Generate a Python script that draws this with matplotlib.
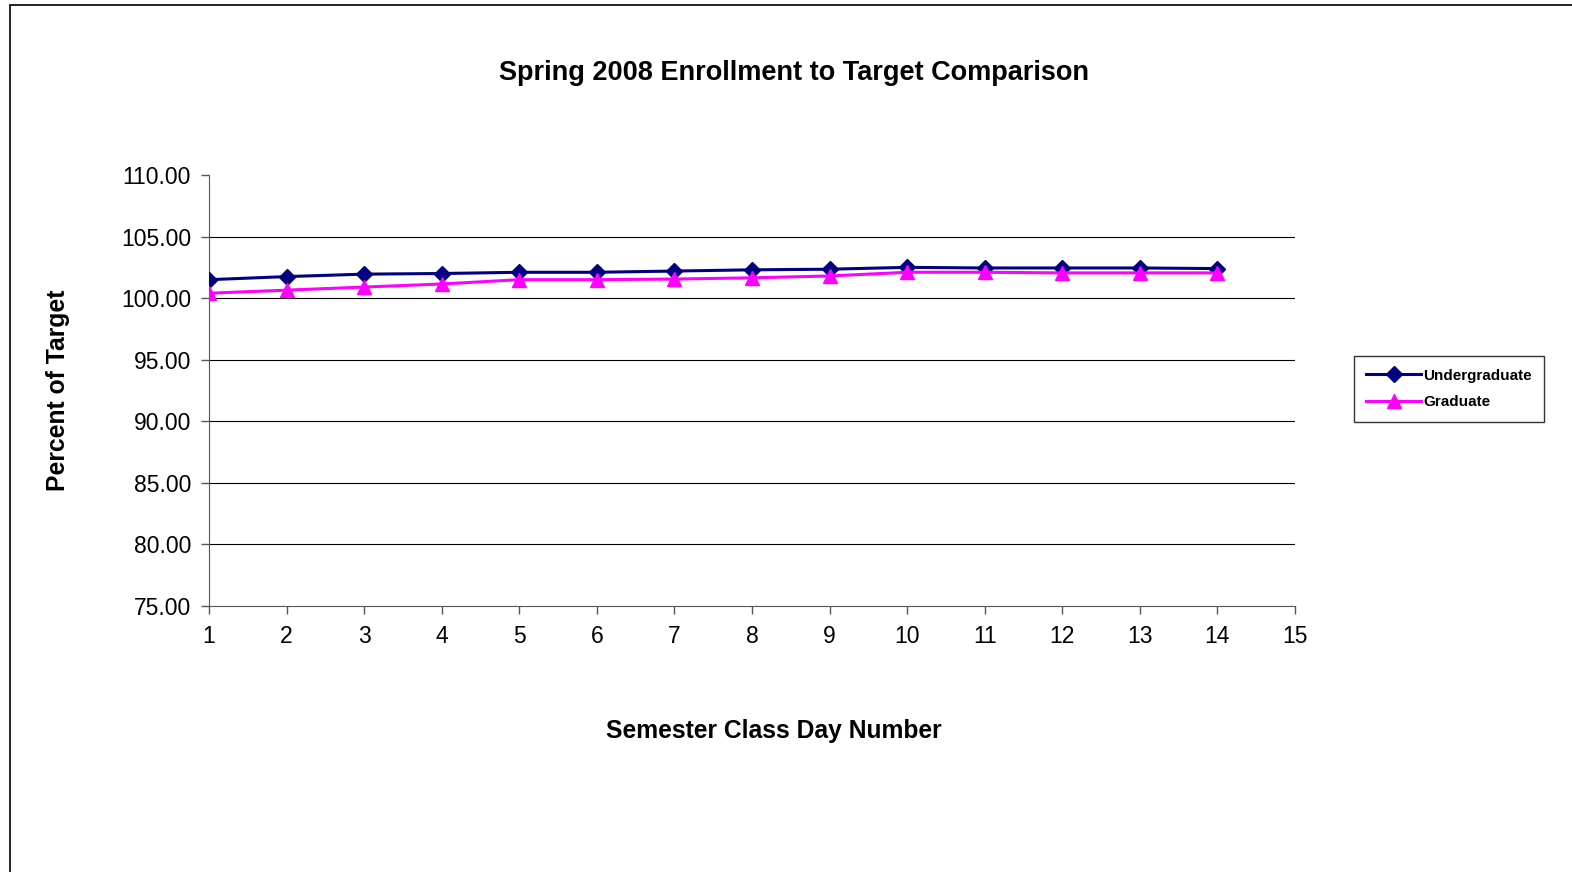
import matplotlib
matplotlib.use("Agg")
import matplotlib.pyplot as plt
from matplotlib.patches import Rectangle

plt.rcParams['font.family'] = ['Liberation Sans', 'DejaVu Sans']

# data
days = list(range(1, 15))
undergrad = [101.5, 101.75, 101.95, 102.0, 102.1, 102.1, 102.2,
             102.3, 102.35, 102.5, 102.45, 102.45, 102.45, 102.4]
graduate = [100.4, 100.65, 100.9, 101.15, 101.5, 101.5, 101.55,
            101.65, 101.8, 102.1, 102.1, 102.05, 102.05, 102.05]
yticks = [75, 80, 85, 90, 95, 100, 105, 110]
xticks = list(range(1, 16))

fig = plt.figure(figsize=(15.72, 8.72), dpi=100)
ax = fig.add_axes([209 / 1572, 1 - 606 / 872, (1295 - 209) / 1572, (606 - 175) / 872])

# outer chart border (left/top edges visible)
fig.patches.append(Rectangle((10 / 1572, -0.05), 1.2, 1.05 - 5 / 872,
                             transform=fig.transFigure, fill=False,
                             edgecolor='black', linewidth=1.2))

for y in yticks[1:-1]:
    ax.axhline(y, color='black', linewidth=0.8, zorder=1)

ax.plot(days, undergrad, color='#000080', marker='D', markersize=8,
        linewidth=2.2, label='Undergraduate', zorder=3)
ax.plot(days, graduate, color='#FF00FF', marker='^', markersize=10,
        linewidth=2.2, label='Graduate', zorder=3)

ax.set_xlim(1, 15)
ax.set_ylim(75, 110)
ax.set_xticks(xticks)
ax.set_yticks(yticks)
ax.set_yticklabels(['%.2f' % v for v in yticks])
ax.tick_params(labelsize=16.5, length=6, color='#555555', width=1)
ax.tick_params(axis='x', pad=8)
ax.tick_params(axis='y', pad=7)
for s in ['top', 'right']:
    ax.spines[s].set_visible(False)
for s in ['left', 'bottom']:
    ax.spines[s].set_color('#555555')

fig.text(794 / 1572, 1 - 73 / 872, 'Spring 2008 Enrollment to Target Comparison',
         ha='center', va='center', fontsize=19.5, fontweight='bold')
fig.text(774 / 1572, 1 - 731 / 872, 'Semester Class Day Number',
         ha='center', va='center', fontsize=17.7, fontweight='bold')
fig.text(58 / 1572, 1 - 390 / 872, 'Percent of Target', rotation=90,
         ha='center', va='center', fontsize=17.8, fontweight='bold')

leg = fig.legend(loc='center', bbox_to_anchor=(1449 / 1572, 1 - 389 / 872),
                 prop={'weight': 'bold', 'size': 11},
                 frameon=True, fancybox=False, edgecolor='black',
                 handlelength=3.6, borderpad=0.8, labelspacing=0.85,
                 handletextpad=0.15, borderaxespad=0)
leg.get_frame().set_linewidth(1)

fig.savefig('out.png', dpi=100)
